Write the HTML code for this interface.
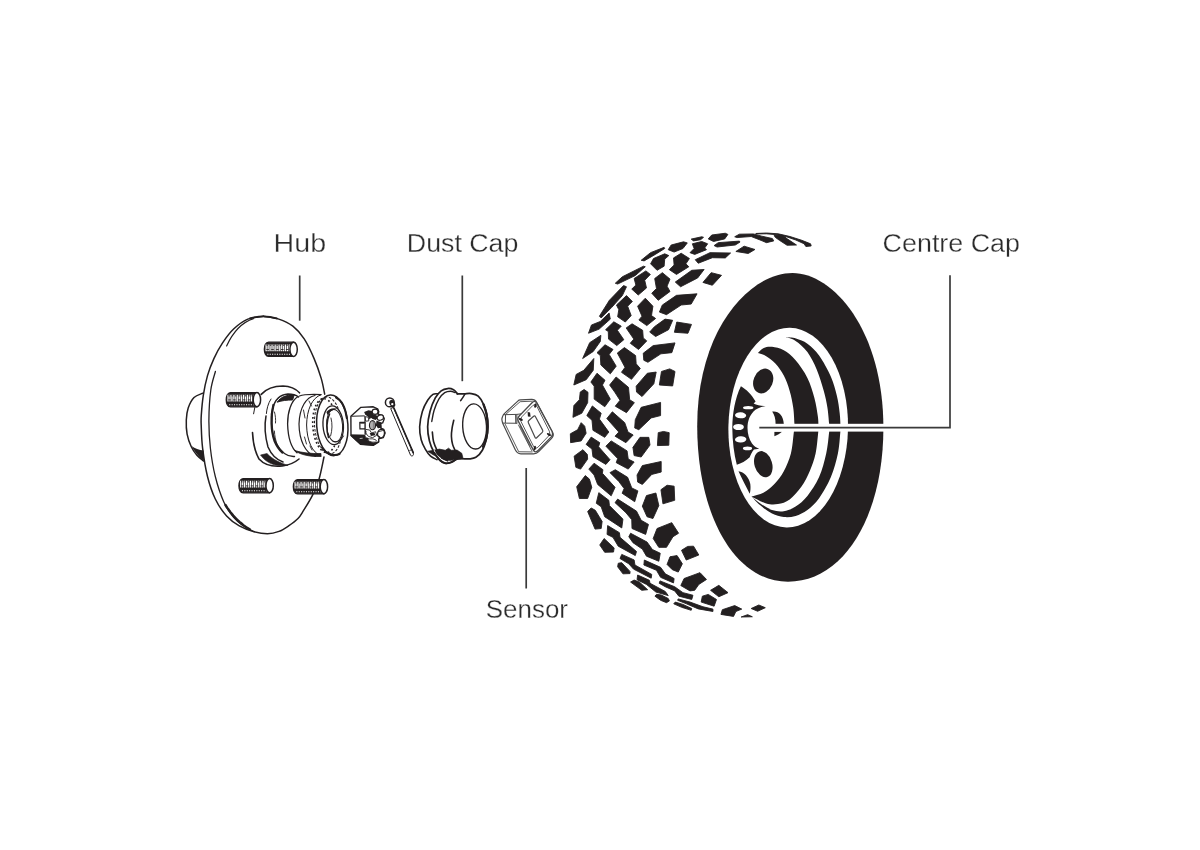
<!DOCTYPE html>
<html lang="en">
<head>
<meta charset="utf-8">
<title>Wheel sensor diagram</title>
<style>
html,body{margin:0;padding:0;background:#fff;}
body{width:1200px;height:850px;overflow:hidden;font-family:"Liberation Sans",sans-serif;}
svg{display:block;}
svg text{font-family:"Liberation Sans",sans-serif;}
</style>
</head>
<body>
<svg width="1200" height="850" viewBox="0 0 1200 850">
<rect width="1200" height="850" fill="#fff"/>
<g id="tread">
<g fill="#231f20" stroke="#231f20" stroke-width="0.9" stroke-linejoin="round">
<path d="M734.71,236.76 L739.41,234.18 L753.53,233.94 L761.76,236.18 L772.35,238.53 L773.76,240.88 L766.47,242.65 L759.41,239.71 L751.18,236.53 L737.06,237.59Z"/>
<path d="M774.12,235.35 L782.94,235.59 L787.65,239.12 L796.47,245 L787.06,245.24 L779.41,240.29 L775.29,237.35Z"/>
<path d="M755.88,233.47 L766.47,233 L778.24,233.82 L790,236.53 L801.76,240.29 L810.59,243.82 L811.18,245.94 L805.88,246.53 L804.12,243.82 L795.88,240.06 L786.47,236.76 L777.06,234.76 L766.47,233.82 L755.88,233.94Z"/>
<path d="M711.76,235 L725.29,233.24 L727.88,234.41 L724.71,238.88 L713.53,241.47 L708.24,238.88Z"/>
<path d="M691.18,239.12 L701.76,236.76 L703.53,237.35 L700.59,239.71 L693.53,240.88Z"/>
<path d="M692.35,243.82 L701.76,241.47 L707.65,243.82 L704.71,247.94 L706.47,249.71 L694.71,254.41 L690,252.65 L694.12,248.53Z"/>
<path d="M718.24,242.65 L739.41,241.12 L740,242.06 L735.29,245 L717.06,247 L714.12,245.59Z"/>
<path d="M744.12,246.18 L754.94,249.47 L748.24,253.47 L735.88,251.47Z"/>
<path d="M710,252.65 L730.59,253 L725.29,257.94 L712.35,257.71 L698.24,263.24 L695.29,259.71Z"/>
<path d="M711.18,272.65 L721.53,275.35 L712.35,285.24 L702.94,282.41Z"/>
<path d="M641.18,260.29 L650.59,252.65 L664.12,247.35 L664.71,248.53 L655.29,254.41 L644.12,260.88Z"/>
<path d="M615.29,283.24 L622.35,276.76 L643.53,266.18 L645.29,266.76 L635.29,275.59 L617.65,284.06Z"/>
<path d="M599.41,316.18 L609.41,300.29 L623.53,285.59 L626.47,286.76 L622.35,295.59 L611.76,307.35 L601.18,317.94Z"/>
<path d="M668.24,249.71 L671.18,245 L683.53,241.82 L687.29,242.88 L682.94,248.53 L674.12,252.06Z"/>
<path d="M650.59,263.82 L653.53,258.53 L664.71,253.82 L668.82,255.59 L664.71,259.12 L664.12,266.18 L657.06,270.29Z"/>
<path d="M631.76,289.12 L635.88,285 L634.12,278.53 L645.88,270.88 L650.35,274.41 L644.71,280.29 L646.47,287.94 L638.24,295Z"/>
<path d="M616.47,305 L626.47,295.59 L632.35,301.47 L627.65,306.18 L631.18,315.59 L625.29,322.06 L617.65,316.76 L618.82,309.71Z"/>
<path d="M669.41,269.71 L674.12,265 L673.53,257.94 L681.18,253.24 L689.41,258.53 L685.88,263.82 L688.82,266.76 L676.47,274.41Z"/>
<path d="M651.76,293.24 L656.47,288.53 L654.71,278.53 L662.35,272.65 L670,279.12 L667.06,286.18 L670,291.47 L658.24,300.29Z"/>
<path d="M675.29,282.06 L691.76,270.29 L704.12,269.47 L697.65,277.94 L680.59,286.76Z"/>
<path d="M659.41,312.06 L662.35,305 L676.47,295.35 L697.06,293.82 L691.18,304.06 L681.18,305 L666.47,314.65Z"/>
<path d="M637.6,306.2 L645.3,298.2 L652.9,306.2 L651.5,315.6 L655.6,318.5 L646.8,325.6 L638.9,320 L642,316.2Z"/>
<path d="M588.53,333.24 L591.47,325 L600.29,321.47 L609.12,313 L610.29,319.12 L599.12,329.12Z"/>
<path d="M582.65,358.53 L589.71,342.65 L600.88,335.35 L600.29,341.47 L593.24,351.47Z"/>
<path d="M573.82,385 L576.18,374.41 L583.82,370.29 L593.82,358.53 L593.24,370.29 L586.18,379.71Z"/>
<path d="M605.59,329.71 L613.82,321.82 L621.24,326.18 L617.35,330.29 L623.82,339.71 L616.76,345.59 L608.53,339.12 L608.29,331.47Z"/>
<path d="M597,352.65 L605,344.76 L613,349.47 L609.12,354.41 L616.18,366.18 L610.29,373.82 L600.88,365 L600.29,355.59Z"/>
<path d="M590.88,382.06 L597,373.24 L605,380.29 L602.41,385 L610.29,399.12 L604.76,406.76 L594.18,399.12 L594.18,386.18Z"/>
<path d="M626.18,327.94 L632.06,323.82 L642.65,330.29 L643.24,337.94 L646.76,340.88 L638.53,349.47 L630.29,343.24 L633.82,339.12Z"/>
<path d="M617.35,353 L624.41,347.59 L635.59,355.59 L636.18,363.82 L640.29,368.53 L631.47,379.35 L621.47,372.29 L625,367.35Z"/>
<path d="M649.71,332.06 L654.41,326.76 L665,319.12 L672.65,320.29 L668.53,329.71 L655.59,336.53Z"/>
<path d="M676.76,322.06 L691.47,324.41 L687.94,333.24 L674.41,332.29Z"/>
<path d="M643.24,353.24 L653.24,345.59 L675,342.88 L671.82,352.65 L660.88,353.82 L647.94,362.29 L643.82,360.29Z"/>
<path d="M636.18,386.18 L647.35,373.24 L656.18,372.06 L653.82,383.82 L642.06,396.53 L636.53,392.06Z"/>
<path d="M661.47,371.47 L669.71,368.88 L675,371.47 L672.65,385.94 L659.35,385Z"/>
<path d="M572.94,417.35 L573.88,405.59 L579.41,399.71 L580.24,392.06 L584.12,389.47 L588,392.29 L587.65,402.65 L581.76,413.24Z"/>
<path d="M609.65,385 L616.12,377 L628.47,387.35 L629.65,399.71 L634.35,402.65 L626.47,412.65 L615.29,406.18 L620,400.29 L614.71,392.06Z"/>
<path d="M570.59,442.65 L570.35,433.82 L577.65,429.71 L581.18,422.65 L584.71,426.18 L586.12,433.24 L581.18,440.88Z"/>
<path d="M575.88,467.35 L574.12,456.18 L582.94,449.71 L587.29,454.41 L587.65,459.12 L580.59,469.12Z"/>
<path d="M586.82,415.59 L592.35,405.94 L601.18,413.24 L599.41,419.12 L608.82,432.06 L604.71,437.35 L592.94,430.29 L592,420.29Z"/>
<path d="M586.12,444.41 L591.18,437.12 L599.76,442.65 L598.59,446.76 L610,459.71 L605.88,464.41 L592.94,456.76 L592,449.12Z"/>
<path d="M606.82,418.53 L612.35,411.82 L624.71,422.65 L628,432.06 L633.18,435 L625.88,442.65 L615.06,436.18 L618.82,432.06Z"/>
<path d="M605.88,446.18 L611.18,440.88 L627.06,450.88 L628.24,459.12 L634.12,462.06 L628.24,469.12 L616.24,462.65 L617.65,458.53Z"/>
<path d="M634.71,427.94 L635.29,419.71 L641.18,407.35 L660.59,402.41 L660.59,415.59 L651.18,417.94 L638.82,429.71Z"/>
<path d="M634.12,455.59 L632.94,447.35 L640,437.35 L648.82,437.35 L650,445 L641.18,457Z"/>
<path d="M658.24,432.65 L663.53,431.47 L669.18,432.65 L668.82,445.24 L657.41,445.59Z"/>
<path d="M637.65,482.06 L637.06,475 L642.35,465.59 L661.18,461.47 L661.18,472.06 L651.76,474.41 L642.35,484.41Z"/>
<path d="M579.41,498.53 L576.71,486.76 L585.29,475.59 L589.41,479.12 L591.76,487.35 L587.65,498.53Z"/>
<path d="M587.65,511.47 L591.18,507.94 L595.29,510.29 L602.12,521.47 L601.18,528.53 L595.06,529.12Z"/>
<path d="M599.76,545 L604.12,538.53 L614.12,547.94 L613.53,552.06 L604.71,552.29Z"/>
<path d="M588.82,469.12 L594.12,463.24 L602.94,469.71 L602.35,473.24 L615.06,487.35 L611.18,495.82 L597.65,484.41 L594.12,475Z"/>
<path d="M596.24,503.24 L598.82,492.65 L608.82,500.29 L609.41,505.59 L622.94,519.12 L621.76,527.94 L604.71,516.76 L601.18,506.76Z"/>
<path d="M607.06,534.41 L607.65,525.59 L619.41,532.65 L620,537.35 L636.47,551.47 L635.29,555.59 L618.24,546.18 L612.94,537.35Z"/>
<path d="M610,472.65 L615.29,469.71 L627.65,477.35 L631.76,487.94 L637.88,490.88 L634.71,501.71 L622.12,493.24 L624.12,488.53 L618.82,481.47Z"/>
<path d="M615.06,502.65 L617.65,499.12 L636.47,511.12 L641.18,520.29 L648.47,524.41 L645.65,534.41 L632,528.53 L631.76,519.71 L625.88,512.65Z"/>
<path d="M628.82,536.76 L630.59,533.24 L647.06,542.06 L652.35,549.47 L660.24,553.24 L658.82,561.24 L646.47,556.18 L642.35,549.12 L632.94,542.65Z"/>
<path d="M642.35,506.18 L646.47,495.59 L655.88,493 L658.82,505.59 L652.94,518.53 L647.06,516.76Z"/>
<path d="M660.94,489.71 L667.06,485.24 L674.12,486.18 L674.71,500.29 L662.94,503.82Z"/>
<path d="M653.18,538.53 L657.06,528.53 L671.76,522.65 L678.59,533.24 L672.94,536.76 L666.47,547.35 L658.82,547.35Z"/>
<path d="M667.06,564.41 L670,556.76 L677.06,555.59 L682.35,563.82 L678.24,572.06 L672.35,569.71Z"/>
<path d="M681.53,550.29 L687.65,546.41 L693.53,546.18 L698.82,555 L686.24,560.06Z"/>
<path d="M620,558.53 L621.76,554.41 L634.12,559.94 L634.94,565 L651.76,574.41 L651.18,578.18 L633.53,569.12 L628.82,563.82Z"/>
<path d="M643.88,565 L644.35,560.06 L660.59,567.35 L665.29,573.82 L674.12,578.53 L673.53,582.88 L660.59,577.35 L656.47,570.29Z"/>
<path d="M617.65,566.76 L618.24,563.24 L621.76,562.65 L630,571.47 L630,573.59 L622.94,573.82Z"/>
<path d="M630.59,582.06 L634.12,580.06 L639.41,582.06 L647.65,589.71 L641.76,590.29Z"/>
<path d="M654.94,596.18 L656.59,594.29 L661.29,595 L668.24,598.53 L669.41,600.88 L666.47,602.65 L660.59,600.29Z"/>
<path d="M673.76,603.82 L675.29,602.06 L682.94,604.41 L691.76,608.53 L691.18,610.29 L681.76,607.35Z"/>
<path d="M637.06,579.71 L637.65,575 L649.41,580.29 L650,583.24 L665.29,591.47 L668.24,595.59 L655.88,592.06 L646.47,584.41Z"/>
<path d="M677.65,600.29 L678.24,598.88 L690,602.06 L702.94,606.76 L712.94,609.12 L712.94,611.47 L698.24,608.88 L686.47,603.82Z"/>
<path d="M659.18,583.24 L660,580.88 L674.71,586.76 L682.94,592.65 L692.94,595.24 L691.76,599.47 L678.82,596.18 L674.71,590.88 L665.29,586.76Z"/>
<path d="M680.82,585.59 L684.12,578.53 L700,572.65 L706.47,579.47 L698.82,584.41 L694.71,590.29 L690,590.88Z"/>
<path d="M701.18,602.06 L702.35,596.18 L708.24,594.41 L716.47,599.47 L714.12,606.18Z"/>
<path d="M710.59,590.29 L718.82,585.35 L728,592.65 L718.82,596.76Z"/>
<path d="M720.94,614.41 L722.35,609.71 L734.71,605.59 L741.76,609.12 L735.88,611.47 L733.53,616.41Z"/>
<path d="M751.18,608.53 L758.82,605 L765.29,607.71 L757.65,611.24Z"/>
<path d="M741.18,617 L747.65,614.65 L752.35,616.76Z"/>
</g>
</g>
<g id="wheel">
<path d="M792.5,272.9 C832.5,272.9 883.4,328.7 883.4,428 C883.4,514.1 845.2,581.7 788,581.7 C733.5,581.7 697.2,513.2 697.2,426 C697.2,328.0 750.6,272.9 792.5,272.9Z" fill="#231f20"/>
<ellipse cx="788.2" cy="427.6" rx="59.8" ry="99.8" fill="#fff" transform="rotate(1 788 427.6)"/>
<path d="M785.6,337.1 C787.33,337.35 792.37,337.48 796,338.6 C799.63,339.72 803.55,340.97 807.4,343.8 C811.25,346.63 815.18,350.10 819.1,355.6 C823.02,361.10 827.95,370.13 830.9,376.8 C833.85,383.47 835.33,389.53 836.8,395.6 C838.27,401.67 839.08,407.88 839.7,413.2 C840.32,418.52 840.40,424.30 840.5,427.5 C840.60,430.70 840.73,428.07 840.3,432.4 C839.87,436.73 839.47,446.07 837.9,453.5 C836.33,460.93 834.03,469.55 830.9,477 C827.77,484.45 823.02,492.70 819.1,498.2 C815.18,503.70 811.32,507.05 807.4,510 C803.48,512.95 799.53,514.73 795.6,515.9 C791.67,517.07 787.73,517.40 783.8,517 C779.87,516.60 775.92,515.45 772,513.5 C768.08,511.55 763.72,508.13 760.3,505.3 C756.88,502.47 752.97,497.97 751.5,496.5 C752.97,497.67 756.88,501.25 760.3,503.5 C763.72,505.75 768.08,508.72 772,510 C775.92,511.28 779.87,511.78 783.8,511.2 C787.73,510.62 791.67,509.05 795.6,506.5 C799.53,503.95 803.48,500.82 807.4,495.9 C811.32,490.98 815.97,484.07 819.1,477 C822.23,469.93 824.53,460.93 826.2,453.5 C827.87,446.07 828.58,436.73 829.1,432.4 C829.62,428.07 829.30,429.03 829.3,427.5 C829.30,425.97 829.42,426.55 829.1,423.2 C828.78,419.85 828.28,412.78 827.4,407.4 C826.52,402.02 825.57,397.18 823.8,390.9 C822.03,384.62 819.53,376.18 816.8,369.7 C814.07,363.22 810.93,356.80 807.4,352 C803.87,347.20 799.23,343.38 795.6,340.9 C791.97,338.42 787.27,337.73 785.6,337.1Z" fill="#231f20"/>
<path d="M757.9,353 C758.88,352.15 761.45,348.93 763.8,347.9 C766.15,346.87 768.67,346.40 772,346.8 C775.33,347.20 779.87,348.05 783.8,350.3 C787.73,352.55 791.67,355.70 795.6,360.3 C799.53,364.90 804.27,371.63 807.4,377.9 C810.53,384.17 812.65,391.42 814.4,397.9 C816.15,404.38 817.23,411.87 817.9,416.8 C818.57,421.73 818.35,424.90 818.4,427.5 C818.45,430.10 818.67,428.07 818.2,432.4 C817.73,436.73 817.02,447.03 815.6,453.5 C814.18,459.97 812.05,465.70 809.7,471.2 C807.35,476.70 804.83,481.80 801.5,486.5 C798.17,491.20 793.63,496.47 789.7,499.4 C785.77,502.33 781.82,503.42 777.9,504.1 C773.98,504.78 770.60,504.77 766.2,503.5 C761.80,502.23 753.95,497.67 751.5,496.5 C753.55,495.82 759.98,494.47 763.8,492.4 C767.62,490.33 771.07,487.63 774.4,484.1 C777.73,480.57 781.05,476.30 783.8,471.2 C786.55,466.10 789.23,459.97 790.9,453.5 C792.57,447.03 793.22,436.73 793.8,432.4 C794.38,428.07 794.30,429.03 794.4,427.5 C794.50,425.97 794.60,426.55 794.4,423.2 C794.20,419.85 793.98,412.78 793.2,407.4 C792.42,402.02 791.27,396.20 789.7,390.9 C788.13,385.60 786.15,380.12 783.8,375.6 C781.45,371.08 778.53,367.03 775.6,363.8 C772.67,360.57 769.15,358.00 766.2,356.2 C763.25,354.40 759.28,353.53 757.9,353Z" fill="#231f20"/>
<ellipse cx="763.2" cy="381" rx="9.6" ry="12.8" fill="#231f20" transform="rotate(22 763.2 381)"/>
<ellipse cx="763.3" cy="464.2" rx="8.8" ry="13.4" fill="#231f20" transform="rotate(-17 763.3 464.2)"/>
<path d="M738.5,471.2 C744,472 749,477 750.3,484 C750.8,488 750.5,491 749.7,493.8 C746,486 741.5,478 738.5,471.2Z" fill="#231f20"/>
<path d="M740.9,386.2 C746,389 752,395 755.6,401.5 L753.6,403.4 C757,405.2 761,405.8 765.6,406 C760,407 756,409 753.5,411.5 C749.5,416 747.6,421 747.5,428 C747.6,434 749,439 752,443.5 C754,446 756,447.6 759.2,448.8 L754,449.6 C752,452 750.8,454.5 749.7,457.3 C746,461 741,463.5 736.8,464.8 C734,454 732.4,441 732.3,428 C732.4,414 735,398 740.9,386.2Z" fill="#231f20"/>
<ellipse cx="748.2" cy="407.7" rx="5.2" ry="1.6" fill="#fff" transform="rotate(0 748.2 407.7)"/>
<ellipse cx="740.6" cy="415.3" rx="5.6" ry="3.0" fill="#fff" transform="rotate(3 740.6 415.3)"/>
<ellipse cx="738.5" cy="427.0" rx="5.4" ry="3.1" fill="#fff" transform="rotate(0 738.5 427.0)"/>
<ellipse cx="740.7" cy="439.4" rx="5.7" ry="3.1" fill="#fff" transform="rotate(-3 740.7 439.4)"/>
<ellipse cx="747.5" cy="448.4" rx="4.6" ry="1.8" fill="#fff" transform="rotate(0 747.5 448.4)"/>
<path d="M772.2,411.6 C778,410.6 783.5,415 783.8,424 L775.6,424 C775.6,419 774.5,415 772.2,411.6Z" fill="#231f20"/>
<path d="M774.4,431.7 L782,431.7 C780,433.6 777.5,435 774.4,436.2Z" fill="#231f20"/>
</g>
<g id="hub">
<path d="M202.8,393.2 C201.33,393.92 196.43,395.03 194,397.5 C191.57,399.97 189.48,404.25 188.2,408 C186.92,411.75 186.48,415.65 186.3,420 C186.12,424.35 186.27,429.63 187.1,434.1 C187.93,438.57 189.67,443.27 191.3,446.8 C192.93,450.33 194.87,452.93 196.9,455.3 C198.93,457.67 202.40,460.05 203.5,461" fill="none" stroke="#231f20" stroke-linecap="round" stroke-linejoin="round" stroke-width="1.5"/>
<path d="M191.6,446 C194,451 198,456 204,461.4 L203.6,450.5 C199,450 195,448.6 191.6,446Z" fill="#231f20"/>
<path d="M263.3,316.3 C265.88,316.77 273.87,317.45 278.8,319.1 C283.73,320.75 288.67,322.90 292.9,326.2 C297.13,329.50 300.67,333.50 304.2,338.9 C307.73,344.30 311.27,352.02 314.1,358.6 C316.93,365.18 319.43,372.47 321.2,378.4 C322.97,384.33 324.12,391.57 324.7,394.2" fill="none" stroke="#231f20" stroke-linecap="round" stroke-linejoin="round" stroke-width="1.5"/>
<path d="M263.3,316.3 C260.72,316.77 252.75,316.98 247.8,319.1 C242.85,321.22 237.83,325.00 233.6,329 C229.37,333.00 225.68,338.17 222.4,343.1 C219.12,348.03 216.38,353.18 213.9,358.6 C211.42,364.02 209.27,369.47 207.5,375.6 C205.73,381.73 204.33,388.83 203.3,395.4 C202.27,401.97 201.65,410.07 201.3,415 C200.95,419.93 200.98,419.47 201.2,425 C201.42,430.53 201.55,439.62 202.6,448.2 C203.65,456.78 205.38,468.03 207.5,476.5 C209.62,484.97 212.12,492.42 215.3,499 C218.48,505.58 222.60,511.52 226.6,516 C230.60,520.48 234.83,523.32 239.3,525.9 C243.77,528.48 248.70,530.20 253.4,531.5 C258.10,532.80 263.23,533.72 267.5,533.7 C271.77,533.68 275.48,532.70 279,531.4 C282.52,530.10 285.43,528.05 288.6,525.9 C291.77,523.75 295.50,521.08 298,518.5 C300.50,515.92 301.15,514.35 303.6,510.4 C306.05,506.45 310.13,499.98 312.7,494.8 C315.27,489.62 317.12,485.60 319,479.3 C320.88,473.00 323.17,460.72 324,457" fill="none" stroke="#231f20" stroke-linecap="round" stroke-linejoin="round" stroke-width="1.5"/>
<path d="M250,318.4 Q263.3,314.3 276.6,318.4" fill="none" stroke="#231f20" stroke-linecap="round" stroke-linejoin="round" stroke-width="1.9"/>
<path d="M253.4,318.6 C243,322 233,332 226.6,346" fill="none" stroke="#231f20" stroke-linecap="round" stroke-linejoin="round" stroke-width="1.2"/>
<path d="M215.4,371.5 C214.63,374.58 211.88,381.92 210.8,390 C209.72,398.08 208.97,410.30 208.9,420 C208.83,429.70 209.33,438.78 210.4,448.2 C211.47,457.62 213.07,467.55 215.3,476.5 C217.53,485.45 220.75,495.08 223.8,501.9 C226.85,508.72 230.32,513.40 233.6,517.4 C236.88,521.40 240.20,523.55 243.5,525.9 C246.80,528.25 251.75,530.57 253.4,531.5" fill="none" stroke="#231f20" stroke-linecap="round" stroke-linejoin="round" stroke-width="1.3"/>
<path d="M225.5,505 C231,514 239,523 250,529.6" fill="none" stroke="#231f20" stroke-linecap="round" stroke-linejoin="round" stroke-width="2.4" stroke-dasharray="3.4 1.2"/>
<path d="M293.6,342.2 H268.6 C262.9,342.2 262.9,356.4 268.6,356.4 H293.6Z" fill="#231f20" stroke="#231f20" stroke-width="1.3"/>
<path d="M265.5,347.8H291.2" stroke="#fff" stroke-width="6.8" stroke-dasharray="1.3 0.65" fill="none"/>
<path d="M266.5,345.4H291.0" stroke="#231f20" stroke-width="1.4" stroke-dasharray="1.4 1.9" fill="none" opacity="0.7"/>
<path d="M266.3,349.5H291.2" stroke="#231f20" stroke-width="1" stroke-dasharray="2.6 2.3" fill="none" opacity="0.85"/>
<path d="M267.3,354.3H292.6" stroke="#fff" stroke-width="1.1" stroke-dasharray="1.1 1.3" fill="none"/>
<ellipse cx="293.6" cy="349.3" rx="3.7" ry="7.1" fill="#fff" stroke="#231f20" stroke-width="1.5"/>
<path d="M256.9,392.6 H230.5 C224.8,392.6 224.8,406.8 230.5,406.8 H256.9Z" fill="#231f20" stroke="#231f20" stroke-width="1.3"/>
<path d="M227.4,398.2H254.5" stroke="#fff" stroke-width="6.8" stroke-dasharray="1.3 0.65" fill="none"/>
<path d="M228.4,395.8H254.3" stroke="#231f20" stroke-width="1.4" stroke-dasharray="1.4 1.9" fill="none" opacity="0.7"/>
<path d="M228.2,399.9H254.5" stroke="#231f20" stroke-width="1" stroke-dasharray="2.6 2.3" fill="none" opacity="0.85"/>
<path d="M229.2,404.7H255.9" stroke="#fff" stroke-width="1.1" stroke-dasharray="1.1 1.3" fill="none"/>
<ellipse cx="256.9" cy="399.7" rx="3.7" ry="7.1" fill="#fff" stroke="#231f20" stroke-width="1.5"/>
<path d="M269.6,478.6 H243.2 C237.5,478.6 237.5,492.8 243.2,492.8 H269.6Z" fill="#231f20" stroke="#231f20" stroke-width="1.3"/>
<path d="M240.1,484.2H267.2" stroke="#fff" stroke-width="6.8" stroke-dasharray="1.3 0.65" fill="none"/>
<path d="M241.1,481.8H267.0" stroke="#231f20" stroke-width="1.4" stroke-dasharray="1.4 1.9" fill="none" opacity="0.7"/>
<path d="M240.9,485.9H267.2" stroke="#231f20" stroke-width="1" stroke-dasharray="2.6 2.3" fill="none" opacity="0.85"/>
<path d="M241.9,490.7H268.6" stroke="#fff" stroke-width="1.1" stroke-dasharray="1.1 1.3" fill="none"/>
<ellipse cx="269.6" cy="485.7" rx="3.7" ry="7.1" fill="#fff" stroke="#231f20" stroke-width="1.5"/>
<path d="M323.9,479.6 H297.6 C291.9,479.6 291.9,493.8 297.6,493.8 H323.9Z" fill="#231f20" stroke="#231f20" stroke-width="1.3"/>
<path d="M294.5,485.2H321.5" stroke="#fff" stroke-width="6.8" stroke-dasharray="1.3 0.65" fill="none"/>
<path d="M295.5,482.8H321.3" stroke="#231f20" stroke-width="1.4" stroke-dasharray="1.4 1.9" fill="none" opacity="0.7"/>
<path d="M295.3,486.9H321.5" stroke="#231f20" stroke-width="1" stroke-dasharray="2.6 2.3" fill="none" opacity="0.85"/>
<path d="M296.3,491.7H322.9" stroke="#fff" stroke-width="1.1" stroke-dasharray="1.1 1.3" fill="none"/>
<ellipse cx="323.9" cy="486.7" rx="3.7" ry="7.1" fill="#fff" stroke="#231f20" stroke-width="1.5"/>
<path d="M254.8,407.5 L253.6,413.8" fill="none" stroke="#231f20" stroke-linecap="round" stroke-linejoin="round" stroke-width="1"/>
<path d="M261.2,394.4 C266,389 274,386 283,386 C291,386.2 296,389 299.5,392.8" fill="none" stroke="#231f20" stroke-linecap="round" stroke-linejoin="round" stroke-width="1.6"/>
<path d="M252.5,432.5 C253,442 255,452 259,459 C264,464.5 272,467 282,466 C290,465 295.5,462 299,459" fill="none" stroke="#231f20" stroke-linecap="round" stroke-linejoin="round" stroke-width="1.6"/>
<path d="M260.5,455 C267,464 277,467.2 288,465.2 C281,463.4 273,459.8 267,453.5Z" fill="#231f20" stroke="#231f20" stroke-width="0.6"/>
<path d="M266,416 C264.5,424 265,436 268,447 C271,454 276,459.5 283,462" fill="none" stroke="#231f20" stroke-linecap="round" stroke-linejoin="round" stroke-width="1.5"/>
<path d="M271,399 C268,403.5 266.8,409 266.4,413.5" fill="none" stroke="#231f20" stroke-linecap="round" stroke-linejoin="round" stroke-width="1"/>
<path d="M294.5,456.5 C288,457 281,452 276,443 C271.5,434 270.3,420 272.5,409 C275,399 281,394.4 288,394 C292,394 296,395 298.5,397" fill="none" stroke="#231f20" stroke-linecap="round" stroke-linejoin="round" stroke-width="1.4"/>
<path d="M273.4,405 C270.6,416 271,431 274.6,441 C276.5,445.5 279,449.5 282.5,452.6" fill="none" stroke="#231f20" stroke-linecap="round" stroke-linejoin="round" stroke-width="2.3"/>
<path d="M277.2,402.2 C280.5,397.2 286.5,394.6 294.2,394.8 L292.6,400 C287,399.8 282,400.6 277.2,402.2Z" fill="#231f20" stroke="#231f20" stroke-width="1"/>
<path d="M274.5,412 C275.5,416 275.8,419.5 275.5,423 M274.4,431 C274.6,436 275.5,440 277,444" fill="none" stroke="#231f20" stroke-linecap="round" stroke-linejoin="round" stroke-width="0.9"/>
<path d="M299.5,396 C303,394.6 310,394.2 321,394.6" fill="none" stroke="#231f20" stroke-linecap="round" stroke-linejoin="round" stroke-width="1.3"/>
<path d="M298,396.5 C291,401 287.5,412 287.6,424 C288,437 291.5,448 297,452.8" fill="none" stroke="#231f20" stroke-linecap="round" stroke-linejoin="round" stroke-width="1.3"/>
<path d="M294.5,450.5 C301,455 310,456.8 321,456.5 L321,453.5 C311,453.8 302,452.8 294.5,450.5Z" fill="#231f20" stroke="#231f20" stroke-width="0.8"/>
<path d="M315,395.5 C306,397 299.5,408 299,424 C299.2,440 305,453 315.5,456.5" fill="none" stroke="#231f20" stroke-linecap="round" stroke-linejoin="round" stroke-width="1.2"/>
<path d="M321,394.8 C312,397.5 306.8,410 306.6,425 C307,441 312,452.5 321,456" fill="none" stroke="#231f20" stroke-linecap="round" stroke-linejoin="round" stroke-width="1"/>
<path d="M303.5,410 L305,418 M304.5,437 L306.5,444 M309,401 L311.5,406 M310,446 L312,450" fill="none" stroke="#231f20" stroke-linecap="round" stroke-linejoin="round" stroke-width="0.9"/>
<ellipse cx="332.3" cy="425.3" rx="15.6" ry="30.4" fill="#fff" stroke="#231f20" stroke-width="1.5" transform="rotate(-4 332.3 425.3)"/>
<ellipse cx="328.2" cy="425.5" rx="13.6" ry="28.6" fill="none" stroke="#231f20" stroke-width="1" stroke-dasharray="2.6 1.6" transform="rotate(-4 328.2 425.5)"/>
<ellipse cx="325.2" cy="425.6" rx="12.4" ry="27" fill="none" stroke="#231f20" stroke-width="1.6" stroke-dasharray="1.8 2.4" transform="rotate(-4 325.2 425.6)"/>
<ellipse cx="333.2" cy="425.3" rx="10.2" ry="19.4" fill="#fff" stroke="#231f20" stroke-width="1.3" transform="rotate(-4 333.2 425.3)"/>
<ellipse cx="334.6" cy="425.6" rx="8" ry="16.2" fill="none" stroke="#231f20" stroke-width="1" transform="rotate(-4 334.6 425.6)"/>
<path d="M326.4,412 C329,408.6 333,407.4 338,408.8 C333,409.6 329.5,411.5 327.5,415Z" fill="#231f20"/>
<path d="M329.6,414 C326.6,420 326,430 328.5,437.5" fill="none" stroke="#231f20" stroke-linecap="round" stroke-linejoin="round" stroke-width="1.5"/>
<path d="M331,418 C332.5,424 332.3,430 330.6,436" fill="none" stroke="#231f20" stroke-linecap="round" stroke-linejoin="round" stroke-width="0.9"/>
<path d="M333,441.5 C337,443 341,441 343.5,436" fill="none" stroke="#231f20" stroke-linecap="round" stroke-linejoin="round" stroke-width="1"/>
<path d="M322,447.5 C326,453.5 333,456.6 339.5,454" fill="none" stroke="#231f20" stroke-linecap="round" stroke-linejoin="round" stroke-width="2"/>
<path d="M336,397.6 C341.5,400 345.4,408 346.8,418" fill="none" stroke="#231f20" stroke-linecap="round" stroke-linejoin="round" stroke-width="2"/>
</g>
<g id="small">
<path d="M350.88,416.35 L360.88,407.35 L373.24,406.76 L377.65,408.82 L378.82,411.76 L377.94,414.12 L382.65,415.41 L384.29,418.82 L382.65,422.94 L380.29,423.65 L380.88,428.24 L383.82,429.41 L385.12,432.94 L383.24,437.65 L378.65,438.82 L378.82,441.88 L373.24,445.29 L360.41,444.24 L351,435.59Z" fill="#fff" stroke="#231f20" stroke-width="1.4" stroke-linejoin="round"/>
<path d="M351.35,416.24 L364.71,415.88 M364.88,416 L365,434.71" fill="none" stroke="#231f20" stroke-width="1"/>
<path d="M351,434.82 L364.71,435.06 L365.71,437.65 L368.53,438.35 L367.65,440.59 L373.24,442.82 L378.65,441.88 L373.35,445.29 L360.41,444.24 L351.12,435.76Z" fill="#231f20" stroke="#231f20" stroke-width="0.8" stroke-linejoin="round"/>
<ellipse cx="372.4" cy="440.5" rx="4.12" ry="1.65" fill="#fff" stroke="#231f20" stroke-width="0.8" transform="rotate(8 372.4 440.5)"/>
<path d="M359.71,438.53 L362.65,438.24" stroke="#fff" stroke-width="0.7" fill="none"/>
<path d="M364.12,412.06 L368.53,410.29 L372.18,410.88 L373.35,414.24 L376.88,415.41 L377.94,417.65 L375.71,420.12 L372.65,418.94 L370.88,417.65 L369.71,419.41 L367.94,416.47 L365.29,414.71Z" fill="#231f20"/>
<ellipse cx="375.1" cy="411.8" rx="2.94" ry="2.65" fill="#fff" stroke="#231f20" stroke-width="1.2" transform="rotate(0 375.1 411.8)"/>
<ellipse cx="380.3" cy="417.6" rx="3.29" ry="2.59" fill="#fff" stroke="#231f20" stroke-width="1.2" transform="rotate(-20 380.3 417.6)"/>
<path d="M376.47,420.59 L381.47,422.47 L381.59,427.65 L377.94,428.35 L375.88,425.29Z" fill="#231f20"/>
<ellipse cx="381.0" cy="433.6" rx="3.41" ry="4.24" fill="#fff" stroke="#231f20" stroke-width="1.3" transform="rotate(10 381.0 433.6)"/>
<path d="M377.94,431.76 L382.65,430.59 M377.06,435.29 L380.29,437.06" stroke="#231f20" stroke-width="0.9" fill="none"/>
<path d="M365.29,416.76 L368.24,417.06 L368.82,420.88 L365.59,421.18Z" fill="#fff" stroke="#231f20" stroke-width="0.9"/>
<path d="M359.82,422.47 L365,422.35 L365,428.82 L359.94,428.94Z" fill="#fff" stroke="#231f20" stroke-width="1.2"/>
<path d="M360.18,422.59 L364.71,422.59 L364.71,423.65 L360.18,423.65Z" fill="#231f20"/>
<ellipse cx="372.5" cy="425.2" rx="3.06" ry="4.59" fill="#fff" stroke="#231f20" stroke-width="1.1" transform="rotate(0 372.5 425.2)"/>
<path d="M370.88,421.76 L370.88,428.82 M372.18,420.88 L372.18,429.41 M373.47,421.18 L373.47,429.29 M374.65,422.35 L374.65,428.24" stroke="#231f20" stroke-width="0.8" fill="none" opacity="0.7"/>
<path d="M365.59,429.41 L369.71,430 L371.47,432.94 L375.59,431.76 L376.76,435.29 L372.65,437.65 L368.53,436.47 L365.59,432.94Z" fill="#fff" stroke="#231f20" stroke-width="0.9"/>
<path d="M369.71,432.94 L374.41,432.94 L375.59,435.29 L370.88,436Z" fill="#231f20"/>
<path d="M365.29,430.59 L366.47,431.18 L366.18,434.71 L365.29,434.71Z" fill="#231f20"/>
<path d="M390.7,408.6 L393.4,407.4 L413.3,452.9 C414.2,455.2 412.2,456.9 410.6,455.3 Z" fill="#fff" stroke="#231f20" stroke-width="1" stroke-linejoin="round"/>
<path d="M393.9,408 L413.2,452.6" stroke="#231f20" stroke-width="1.7" fill="none" stroke-linecap="round"/>
<path d="M409.4,450.6 L412.2,449.4" stroke="#231f20" stroke-width="0.9"/>
<circle cx="389.8" cy="402.4" r="4.4" fill="#fff" stroke="#231f20" stroke-width="1.5"/>
<ellipse cx="392.3" cy="403.6" rx="2.7" ry="4" fill="#231f20" transform="rotate(-22 392.3 403.6)"/>
<circle cx="392.3" cy="404.2" r="1.15" fill="#fff"/>
<path d="M437.65,393.82 C436.87,393.92 434.61,393.33 432.94,394.41 C431.27,395.49 429.41,397.45 427.65,400.29 C425.88,403.13 423.68,407.06 422.35,411.47 C421.02,415.88 419.84,422.05 419.65,426.76 C419.45,431.47 420.24,435.98 421.18,439.71 C422.12,443.44 423.72,446.38 425.29,449.12 C426.86,451.87 428.63,454.42 430.59,456.18 C432.55,457.94 435.98,459.12 437.06,459.71" fill="none" stroke="#231f20" stroke-linecap="round" stroke-linejoin="round" stroke-width="1.61"/>
<path d="M457.65,393.82 C456.96,393.13 455.20,390.59 453.53,389.71 C451.86,388.83 449.71,388.33 447.65,388.53 C445.59,388.72 443.24,389.31 441.18,390.88 C439.12,392.45 437.15,394.51 435.29,397.94 C433.43,401.37 431.27,406.67 430,411.47 C428.73,416.27 427.75,421.86 427.65,426.76 C427.55,431.66 428.33,436.56 429.41,440.88 C430.49,445.19 432.36,449.41 434.12,452.65 C435.88,455.88 438.14,458.53 440,460.29 C441.86,462.06 443.43,462.91 445.29,463.24 C447.15,463.57 449.32,462.98 451.18,462.29 C453.04,461.60 455.59,459.65 456.47,459.12" fill="#fff" stroke="#231f20" stroke-width="1.72" stroke-linecap="round"/>
<path d="M455.29,392.65 C454.51,392.41 452.35,391.24 450.59,391.24 C448.83,391.24 446.67,391.34 444.71,392.65 C442.75,393.96 440.58,396.18 438.82,399.12 C437.06,402.06 435.30,406.56 434.12,410.29 C432.94,414.02 432.15,419.61 431.76,421.47" fill="none" stroke="#231f20" stroke-linecap="round" stroke-linejoin="round" stroke-width="1.38"/>
<path d="M432.35,432.06 C432.55,433.63 432.75,438.43 433.53,441.47 C434.31,444.51 435.69,447.64 437.06,450.29 C438.43,452.94 440.00,455.59 441.76,457.35 C443.52,459.12 446.67,460.29 447.65,460.88" fill="none" stroke="#231f20" stroke-linecap="round" stroke-linejoin="round" stroke-width="1.61"/>
<path d="M457.06,393.82 C458.24,393.82 461.77,393.86 464.12,393.82 C466.47,393.78 468.83,393.20 471.18,393.59 C473.53,393.98 476.18,394.38 478.24,396.18 C480.30,397.98 482.06,401.08 483.53,404.41 C485.00,407.74 486.33,412.46 487.06,416.18 C487.79,419.90 487.98,423.03 487.88,426.76 C487.78,430.49 487.39,434.61 486.47,438.53 C485.55,442.45 484.12,447.15 482.35,450.29 C480.59,453.43 478.13,455.92 475.88,457.35 C473.62,458.78 471.17,458.64 468.82,458.88 C466.47,459.12 464.11,458.72 461.76,458.76 C459.41,458.80 455.88,459.06 454.71,459.12" fill="none" stroke="#231f20" stroke-linecap="round" stroke-linejoin="round" stroke-width="1.72"/>
<path d="M464.71,394.41 C464.41,394.90 463.63,396.31 462.94,397.35 C462.25,398.39 460.98,400.10 460.59,400.65" fill="none" stroke="#231f20" stroke-linecap="round" stroke-linejoin="round" stroke-width="1.49"/>
<path d="M427.65,451.24 L433.53,450.29 L439.41,449.12 L445.29,450.29 L448.59,448.18 L451.18,450.29 L457.06,450.06 L461.76,453.24 L463.18,458.76 L455.29,459.24 L450.59,460.41 L445.29,459.94 L439.41,457.59 L433.53,455Z" fill="#231f20" stroke="#231f20" stroke-width="0.69" stroke-linejoin="round"/>
<path d="M434.12,450.29 C434.51,451.04 435.35,453.35 436.47,454.76 C437.59,456.17 440.10,458.09 440.82,458.76" fill="none" stroke="#fff" stroke-width="1.03"/>
<path d="M434.12,452.65 C435.10,453.92 438.14,458.53 440,460.29 C441.86,462.06 443.43,462.91 445.29,463.24 C447.15,463.57 449.32,462.98 451.18,462.29 C453.04,461.60 455.59,459.65 456.47,459.12" fill="none" stroke="#231f20" stroke-linecap="round" stroke-linejoin="round" stroke-width="1.84"/>
<path d="M453.76,420.29 C453.49,421.56 452.51,425.29 452.12,427.94 C451.73,430.59 451.33,433.44 451.41,436.18 C451.49,438.93 451.94,441.96 452.59,444.41 C453.24,446.86 454.84,449.80 455.29,450.88" fill="none" stroke="#231f20" stroke-linecap="round" stroke-linejoin="round" stroke-width="1.61"/>
<ellipse cx="474.6" cy="426.4" rx="11.9" ry="22.6" fill="#fff" stroke="#231f20" stroke-width="1.38" transform="rotate(-3 474.6 426.4)"/>
<path d="M483.53,404.41 C484.02,405.98 485.78,410.10 486.47,413.82 C487.16,417.54 487.69,422.64 487.65,426.76 C487.61,430.88 487.02,435.20 486.24,438.53 C485.46,441.86 483.49,445.39 482.94,446.76" fill="none" stroke="#231f20" stroke-linecap="round" stroke-linejoin="round" stroke-width="2.30"/>
<path d="M501.96,420.00 Q501.75,418.82 502.16,417.69 L502.73,416.12 Q503.24,414.71 504.33,413.68 L517.79,401.08 Q518.88,400.05 520.38,399.97 L531.44,399.40 Q534.94,399.22 536.60,402.30 L552.22,431.42 Q553.64,434.06 553.14,435.71 L553.14,435.71 Q552.65,437.35 550.90,439.14 L538.68,451.67 Q536.59,453.82 533.59,453.82 L520.88,453.82 Q518.88,453.82 517.44,452.59 L517.44,452.59 Q516.00,451.35 515.15,449.54 L503.05,423.89 Q502.41,422.53 502.15,421.05Z" fill="#fff" stroke="#4a4a4a" stroke-width="1.2" stroke-linejoin="round"/>
<path d="M506.12,414.05 L520.12,401.69 L532.22,401.2" fill="none" stroke="#4a4a4a" stroke-linejoin="round" stroke-linecap="round" stroke-width="0.9"/>
<path d="M503.65,414.71 L516.82,414.38 L522.59,413.72 L531.65,403.59" fill="none" stroke="#4a4a4a" stroke-linejoin="round" stroke-linecap="round" stroke-width="1"/>
<path d="M523.82,414.71 L531.24,406.88" fill="none" stroke="#4a4a4a" stroke-linejoin="round" stroke-linecap="round" stroke-width="0.9"/>
<path d="M503.07,423.11 L516.82,423.27 M505.54,415.12 L505.38,422.61 M515.59,414.71 L515.75,422.94 M516.82,414.54 L516.91,423.11" fill="none" stroke="#4a4a4a" stroke-linejoin="round" stroke-linecap="round" stroke-width="1"/>
<path d="M505.05,423.93 L518.72,451.76 L532.22,451.93" fill="none" stroke="#4a4a4a" stroke-linejoin="round" stroke-linecap="round" stroke-width="0.9"/>
<path d="M518.47,425 L531.65,450.53 M520.12,426.24 L530,446" fill="none" stroke="#4a4a4a" stroke-linejoin="round" stroke-linecap="round" stroke-width="0.9"/>
<path d="M532.02,402.74 Q534.94,399.72 536.93,403.42 L552.03,431.48 Q553.64,434.47 551.28,436.92 L538.11,450.56 Q535.19,453.58 533.25,449.86 L518.39,421.42 Q516.82,418.41 519.19,415.97Z" fill="#fff" stroke="#4a4a4a" stroke-width="1.3"/>
<path d="M532.69,405.60 Q535.19,403.01 536.81,406.23 L549.32,431.13 Q550.67,433.81 548.60,435.99 L537.83,447.34 Q535.35,449.95 533.73,446.74 L521.06,421.67 Q519.71,418.99 521.80,416.84Z" fill="none" stroke="#4a4a4a" stroke-width="0.9"/>
<path d="M528.36,422.73 Q527.78,421.46 528.83,420.53 L533.64,416.29 Q534.69,415.36 535.35,416.59 L542.60,430.11 Q543.26,431.34 542.26,432.32 L536.68,437.77 Q535.68,438.75 535.10,437.48Z" fill="#fff" stroke="#4a4a4a" stroke-width="1.2"/>
<ellipse cx="535.4" cy="405.6" rx="2.3" ry="1.15" fill="#231f20" transform="rotate(-75 535.4 405.6)"/>
<ellipse cx="520.7" cy="419.4" rx="2.3" ry="1.15" fill="#231f20" transform="rotate(25 520.7 419.4)"/>
<ellipse cx="548.9" cy="434.5" rx="2.3" ry="1.15" fill="#231f20" transform="rotate(30 548.9 434.5)"/>
<ellipse cx="534.8" cy="448.1" rx="2.3" ry="1.15" fill="#231f20" transform="rotate(-80 534.8 448.1)"/>
<path d="M527.61,412.07 L530.08,412.4 L530.58,416.68 L527.94,416.52Z" fill="#231f20"/>
</g>
<g id="labels">
<rect x="759" y="423.8" width="125" height="7.8" fill="#fff"/>
<g fill="none" stroke="#3a3a3a" stroke-width="1.7">
<path d="M299.7,275.5V320.7"/>
<path d="M462.3,275.5V381.2"/>
<path d="M526.2,468V588.5"/>
<path d="M950,275.3V427.7H759.3"/>
</g>
<g fill="#2b2b2b" font-size="26.4" stroke="#fff" stroke-width="0.3" style="filter:grayscale(1)">
<text x="273.6" y="251.9" textLength="52.6" lengthAdjust="spacingAndGlyphs">Hub</text>
<text x="406.8" y="251.9" textLength="111.6" lengthAdjust="spacingAndGlyphs">Dust Cap</text>
<text x="882.6" y="251.9" textLength="137.4" lengthAdjust="spacingAndGlyphs">Centre Cap</text>
<text x="485.8" y="617.9" textLength="82.2" lengthAdjust="spacingAndGlyphs">Sensor</text>
</g>
</g>
</svg>
</body>
</html>
